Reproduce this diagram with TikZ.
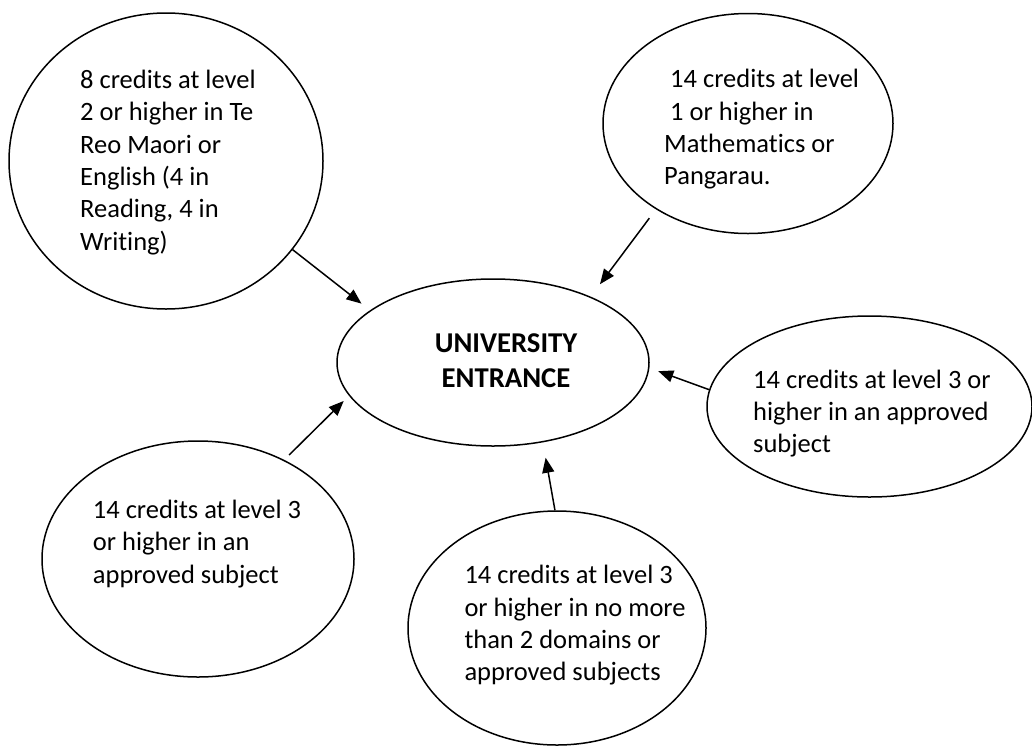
\documentclass[tikz,border=0pt]{standalone}
\usepackage{fontspec}
\setmainfont[Ligatures=NoCommon]{Carlito}
\usetikzlibrary{shapes.geometric,arrows.meta}
\begin{document}
\begin{tikzpicture}[x=1pt,y=-1pt,
  bub/.style={ellipse,draw,line width=1.5pt,inner sep=0pt},
  txt/.style={anchor=base west,align=left,inner sep=0pt,font=\fontsize{26.5}{32.4}\selectfont},
  arr/.style={line width=1.5pt,-{Triangle[length=15pt,width=12pt]}}]
\useasboundingbox (0,0) rectangle (1032,747);
% bubbles
\node[bub,minimum width=314pt,minimum height=296pt] (e1) at (166,161) {};
\node[bub,minimum width=290pt,minimum height=220pt] (e2) at (748,123.5) {};
\node[bub,minimum width=312pt,minimum height=167pt] (e3) at (493,362.5) {};
\node[bub,minimum width=325pt,minimum height=181pt] (e4) at (869.5,406.5) {};
\node[bub,minimum width=312pt,minimum height=236pt] (e5) at (198,559) {};
\node[bub,minimum width=298pt,minimum height=234pt] (e6) at (557,628) {};
% texts (anchored at the baseline of their last line)
\node[txt] (t1) at (80,250.3) {8 credits at level\\2 or higher in Te\\Reo Maori or\\English (4 in\\Reading, 4 in\\Writing)};
\node[txt] (t2) at (664,184.8) {\hspace*{6pt}14 credits at level\\\hspace*{6pt}1 or higher in\\Mathematics or\\Pangarau.};
\node[anchor=base,align=center,inner sep=0pt,font=\bfseries\fontsize{28.7}{35}\selectfont] (t3) at (506,387.7) {UNIVERSITY\\ENTRANCE};
\node[txt] (t4) at (753,452.9) {14 credits at level 3 or\\higher in an approved\\subject};
\node[txt] (t5) at (92.7,583.3) {14 credits at level 3\\or higher in an\\approved subject};
\node[txt] (t6) at (464.3,680.8) {14 credits at level 3\\or higher in no more\\than 2 domains or\\approved subjects};
% arrows
\draw[arr,shorten >=10.8pt] (e1.-35) -- (e3.157.35);
\draw[arr,shorten <=11pt,shorten >=15.5pt] (e2.223.4) -- (e3.34.35);
\draw[arr,shorten >=9.4pt] (e4.174.9) -- (e3.-2.26);
\draw[arr,shorten <=6.9pt,shorten >=7.4pt] (e5.49.1) -- (e3.193.3);
\draw[arr,shorten >=15.6pt] (e6.91) -- (e3.-58.4);
\end{tikzpicture}
\end{document}
